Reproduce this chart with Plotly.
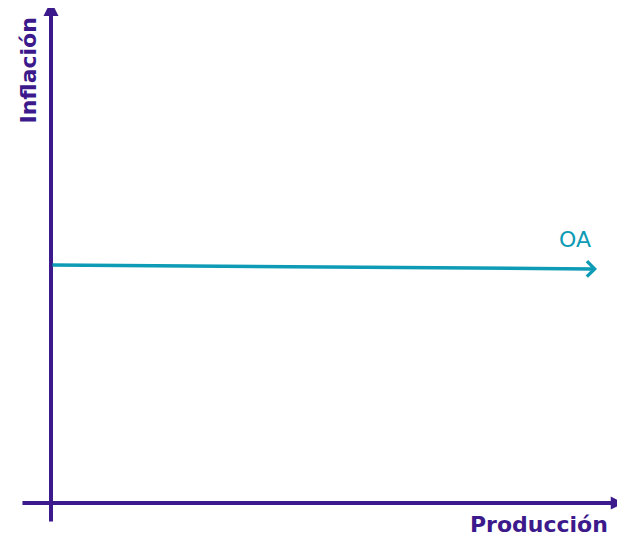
import plotly.graph_objects as go

# Curva OA (oferta agregada), casi horizontal
oa_x = [0, 10]
oa_y = [4.76, 4.68]
oa_label = "OA"

x_title = "Producción"
y_title = "Inflación"

# extent of the drawn axes (data units)
x_axis = [-0.55, 10.49]
y_axis = [-0.4, 10.04]

PURPLE = "#3c1a8b"
TEAL = "#0d9bb5"
FONT = "DejaVu Sans"

# page body has an 8px margin, so the figure starts at (8, 8)
PAD = 8
W, H = 625 - PAD, 551 - PAD
KX, KY = 54.6, 50.0  # px per unit
X0, Y0 = 51, 503     # pixel position of the origin in the window

fig = go.Figure()

# invisible trace so the axes exist
fig.add_trace(go.Scatter(x=oa_x, y=oa_y, mode="lines",
                         line=dict(color="rgba(0,0,0,0)"),
                         hoverinfo="skip", showlegend=False))

arrows = [
    # horizontal axis
    dict(x=x_axis[1], y=0, ax=x_axis[0], ay=0, color=PURPLE,
         head=2, width=4, size=0.65),
    # vertical axis
    dict(x=0, y=y_axis[1], ax=0, ay=y_axis[0], color=PURPLE,
         head=2, width=4, size=0.75),
    # OA curve
    dict(x=oa_x[-1], y=oa_y[-1], ax=oa_x[0], ay=oa_y[0], color=TEAL,
         head=4, width=3.5, size=0.85),
]
for a in arrows:
    fig.add_annotation(
        x=a["x"], y=a["y"], ax=a["ax"], ay=a["ay"],
        xref="x", yref="y", axref="x", ayref="y",
        text="", showarrow=True,
        arrowhead=a["head"], arrowwidth=a["width"], arrowsize=a["size"],
        arrowcolor=a["color"],
    )

fig.add_annotation(x=-0.43, y=8.64, text=y_title, textangle=-90,
                   showarrow=False, xref="x", yref="y",
                   font=dict(family=FONT, size=22, color=PURPLE, weight=700))
fig.add_annotation(x=8.94, y=-0.42, text=x_title,
                   showarrow=False, xref="x", yref="y",
                   font=dict(family=FONT, size=22, color=PURPLE, weight=700))
fig.add_annotation(x=9.6, y=5.28, text=oa_label,
                   showarrow=False, xref="x", yref="y",
                   font=dict(family=FONT, size=22, color=TEAL))

fig.update_xaxes(range=[-(X0 - PAD) / KX, (625 - X0) / KX],
                 visible=False, fixedrange=True)
fig.update_yaxes(range=[-(551 - Y0) / KY, (Y0 - PAD) / KY],
                 visible=False, fixedrange=True)

fig.update_layout(
    width=W, height=H,
    margin=dict(l=0, r=0, t=0, b=0),
    paper_bgcolor="white", plot_bgcolor="white",
)

fig.write_html("out.html")
